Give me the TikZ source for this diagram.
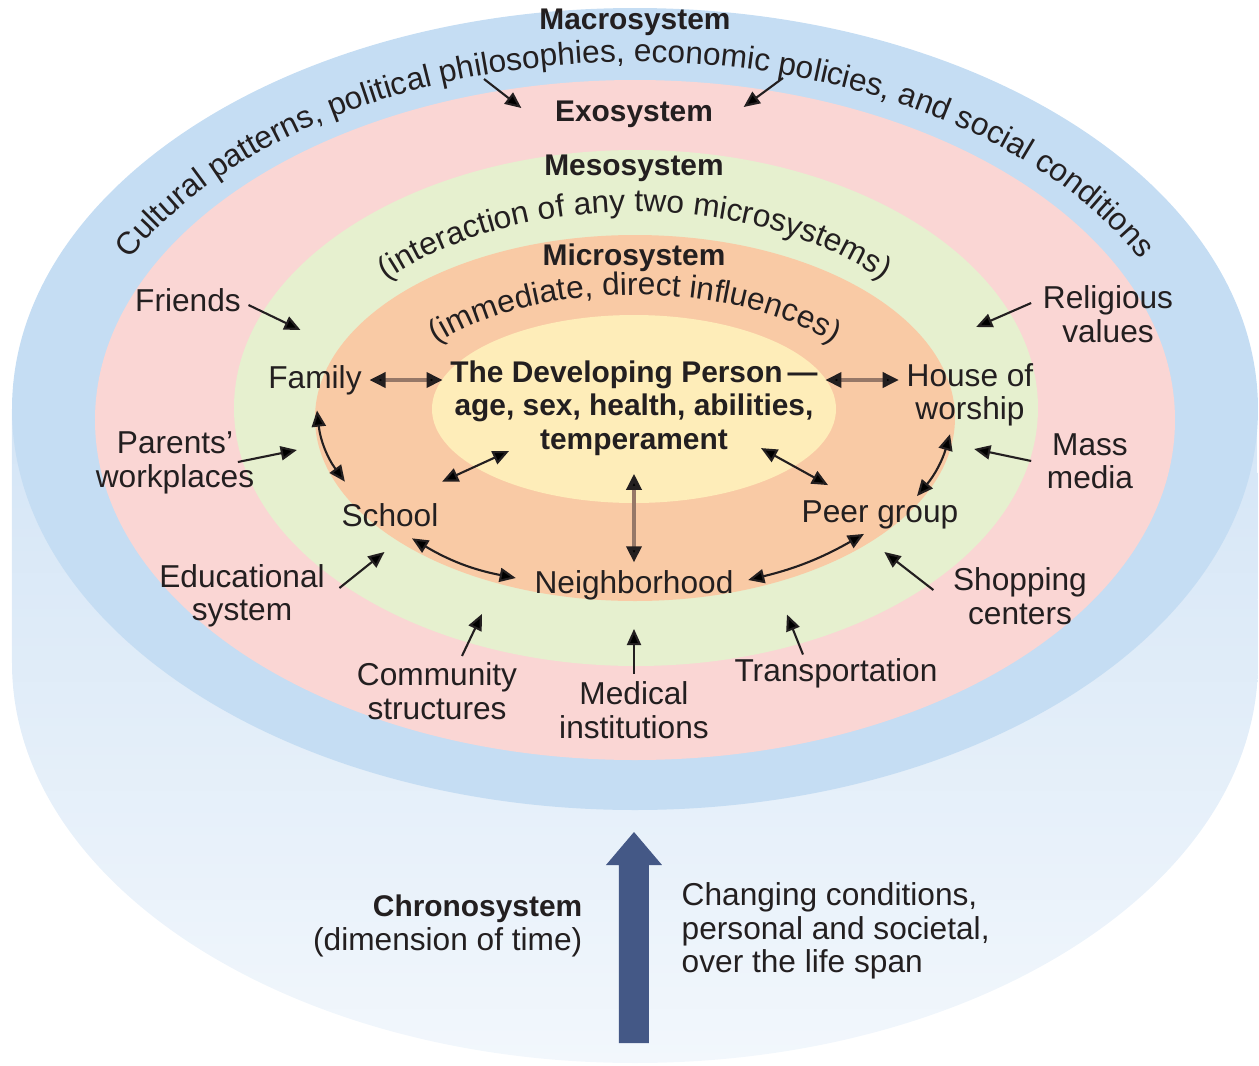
\documentclass[tikz,border=0pt]{standalone}
\usepackage{fontspec}
\setmainfont{Liberation Sans}
\usetikzlibrary{arrows.meta,calc,decorations.text}

\definecolor{macroblue}{RGB}{197,221,243}
\definecolor{exopink}{RGB}{250,214,212}
\definecolor{mesogreen}{RGB}{230,240,207}
\definecolor{microorange}{RGB}{249,202,165}
\definecolor{personyellow}{RGB}{254,237,185}
\definecolor{sideblue}{RGB}{212,229,246}
\definecolor{sidelight}{RGB}{242,247,252}
\definecolor{chronoblue}{RGB}{68,88,134}
\definecolor{linkbrown}{RGB}{150,120,104}
\definecolor{inktext}{RGB}{35,31,32}

\begin{document}
\begin{tikzpicture}[x=0.01cm, y=0.01cm,
	lbl/.style={text=inktext, font=\fontsize{9}{9.5}\selectfont, align=center, inner sep=2pt},
	ttl/.style={lbl, font=\bfseries\fontsize{8.5}{9.5}\selectfont},
	tip/.style={-{Triangle[length=4.6pt,width=4pt]}, draw=inktext, line width=0.6pt},
	dbl/.style={{Triangle[length=4.6pt,width=4pt]}-{Triangle[length=4.6pt,width=4pt]}, draw=inktext, line width=0.6pt},
	brownlink/.style={{Triangle[length=4.6pt,width=4.2pt,color=inktext]}-{Triangle[length=4.6pt,width=4.2pt,color=inktext]}, draw=linkbrown, line width=1.4pt},
	arctext/.style={decorate, decoration={text along path, text align=center, text color=inktext, text={|\fontsize{9}{9}\selectfont|#1}}}
	]
			\useasboundingbox (0,0) rectangle (1259,-1066);
			
			\shade[top color=sideblue, bottom color=sidelight] (12,-409) -- (12,-663) arc[start angle=180, end angle=360, x radius=623, y radius=400] -- (1257,-409) -- cycle;
			\fill[macroblue] (635,-409) ellipse[x radius=623, y radius=401];
			\fill[exopink] (635,-420) ellipse[x radius=540, y radius=340];
			\fill[mesogreen] (636,-408) ellipse[x radius=402, y radius=258];
			\fill[microorange] (635,-418) ellipse[x radius=320, y radius=183];
			\fill[personyellow] (634,-409) ellipse[x radius=202, y radius=94];
			
			\path[arctext={Cultural patterns, political philosophies, economic policies, and social conditions}] ($(635,-420)+(160:565 and 358)$) arc[start angle=160, end angle=20, x radius=565, y radius=358];
			\path[arctext={(interaction of any two microsystems)}] ($(635,-412)+(150:330 and 200)$) arc[start angle=150, end angle=30, x radius=330, y radius=200];
			\path[arctext={(immediate, direct influences)}] ($(635,-420)+(150:250 and 125)$) arc[start angle=150, end angle=30, x radius=250, y radius=125];
			
			\node[ttl] (macro) at (635,-22) {Macrosystem};
			\node[ttl] (exo) at (634,-114) {Exosystem};
			\node[ttl] (meso) at (634,-168) {Mesosystem};
			\node[ttl] (micro) at (634,-258) {Microsystem};
			\node[ttl] (person) at (634,-408) {The Developing Person\,—\\age, sex, health, abilities,\\temperament};
			
			\node[lbl] (family) at (315,-380) {Family};
			\node[lbl] (house) at (970,-395) {House of\\worship};
			\node[lbl] (school) at (390,-515) {School};
			\node[lbl] (peer) at (880,-515) {Peer group};
			\node[lbl] (hood) at (634,-585) {Neighborhood};
			
			\node[lbl] (friends) at (188,-300) {Friends};
			\node[lbl] (relig) at (1108,-314) {Religious\\values};
			\node[lbl] (parents) at (175,-463) {Parents’\\workplaces};
			\node[lbl] (media) at (1090,-461) {Mass\\media};
			\node[lbl] (edu) at (242,-596) {Educational\\system};
			\node[lbl] (shop) at (1020,-596) {Shopping\\centers};
			\node[lbl] (comm) at (437,-691) {Community\\structures};
			\node[lbl] (med) at (634,-710) {Medical\\institutions};
			\node[lbl] (transp) at (836,-673) {Transportation};
			
			\node[lbl, align=right, anchor=east] (chrono) at (590,-926) {{\bfseries\fontsize{8.5}{9.5}\selectfont Chronosystem}\\(dimension of time)};
			\node[lbl, align=left, anchor=west] (change) at (674,-931) {Changing conditions,\\personal and societal,\\over the life span};
			\fill[chronoblue] (619,-1043) -- (619,-865) -- (606,-865) -- (634,-832) -- (662,-865) -- (649,-865) -- (649,-1043) -- cycle;
			
			\coordinate (polleft) at (484,-79);
			\coordinate (polright) at (783,-78);
			\draw[tip] (polleft) -- ($(exo.west)+(-26,6)$);
			\draw[tip] (polright) -- ($(exo.east)+(23,7)$);
			
			\draw[tip] ($(friends.east)+(0,-5)$) -- ++(52,-25);
			\draw[tip] ($(relig.west)+(-4,11)$) -- ++(-55,-24);
			\draw[tip] ($(parents.east)+(-24,1)$) -- ++(59,12);
			\draw[tip] ($(media.west)+(-8,0)$) -- ++(-57,12);
			\draw[tip] ($(edu.east)+(7,8)$) -- ++(45,36);
			\draw[tip] ($(shop.west)+(-12,6)$) -- ++(-49,38);
			\draw[tip] ($(comm.north)+(25,-1)$) -- ++(20,42);
			\draw[tip] (med.north) -- ++(0,45);
			\draw[tip] ($(transp.north)+(-33,-4)$) -- ++(-16,40);
			
			\draw[brownlink] (family.east) -- (family.east -| person.west);
			\draw[brownlink] (person.east |- family.east) -- (house.west |- family.east);
			\draw[brownlink, shorten <=3pt] (person.south) -- (hood.north);
			\draw[dbl] ($(person.south)+(-125,12)$) -- ($(school.north east)+(-4,14)$);
			\draw[dbl] ($(person.south)+(127,15)$) -- ($(peer.north)+(-52,8)$);
			\draw[dbl] ($(family.south)+(2,-8)$) to[bend right=15] ($(school.north west)+(11,14)$);
			\draw[dbl] ($(house.south)+(-20,0)$) to[bend left=12] ($(peer.north)+(37,-3)$);
			\draw[dbl] ($(school.south)+(22,-4)$) to[bend right=10] ($(hood.west)+(-11,7)$);
			\draw[dbl] ($(peer.south)+(-16,3)$) to[bend left=8] ($(hood.east)+(7,5)$);
		\end{tikzpicture}
\end{document}
